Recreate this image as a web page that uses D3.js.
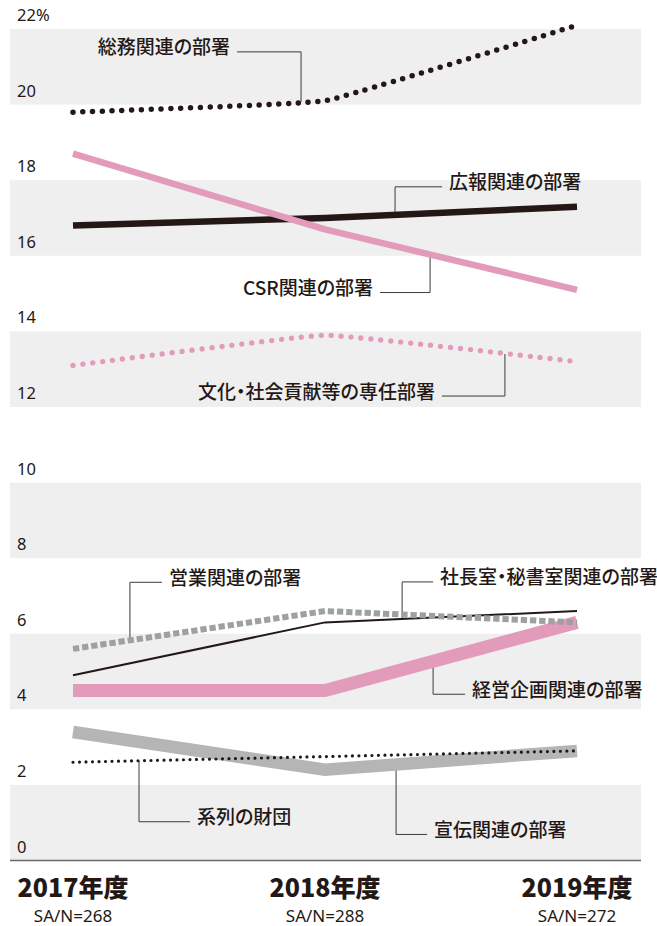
<!DOCTYPE html>
<html>
<head>
<meta charset="utf-8">
<script src="https://cdn.jsdelivr.net/npm/d3@7"></script>
<style>
  body { margin: 0; background: #fff; }
  svg { display: block; }
</style>
</head>
<body>
<script>
// values (%)
const years = ['2017年度', '2018年度', '2019年度']
const sampleSizes = ['SA/N=268', 'SA/N=288', 'SA/N=272']
const yTicks = [0, 2, 4, 6, 8, 10, 12, 14, 16, 18, 20, 22]

const somu = [19.8, 20.1, 22.1]          // 総務関連の部署
const koho = [16.8, 17.0, 17.3]          // 広報関連の部署
const csr = [18.7, 16.7, 15.1]           // CSR関連の部署
const bunka = [13.1, 13.9, 13.2]         // 文化・社会貢献等の専任部署
const eigyo = [5.6, 6.6, 6.3]            // 営業関連の部署
const shacho = [4.9, 6.3, 6.6]           // 社長室・秘書室関連の部署
const keiei = [4.5, 4.5, 6.3]            // 経営企画関連の部署
const senden = [3.4, 2.4, 2.9]           // 宣伝関連の部署
const keiretsu = [2.6, 2.75, 2.9]        // 系列の財団

const W = 657, H = 926
const ink = '#231815'
const pink = '#e29bbb'

const svg = d3.select('body').append('svg')
    .attr('width', W)
    .attr('height', H)

const x = d3.scaleLinear().domain([0, 2]).range([73, 577])
const y = d3.scaleLinear().domain([0, 22]).range([860.5, 29])

// alternating bands
svg.selectAll('rect.band')
    .data(yTicks.filter(d => d % 4 === 0 && d < 22))
    .enter()
    .append('rect')
    .attr('class', 'band')
    .attr('x', 10)
    .attr('width', 631)
    .attr('y', d => y(d + 2))
    .attr('height', d => y(d) - y(d + 2))
    .attr('fill', '#efefef')

svg.append('line')
    .attr('x1', 10).attr('x2', 641)
    .attr('y1', y(0)).attr('y2', y(0))
    .attr('stroke', '#6a6767')
    .attr('stroke-width', 1.5)

svg.selectAll('text.tick')
    .data(yTicks)
    .enter()
    .append('text')
    .attr('class', 'tick')
    .attr('x', 17)
    .attr('y', d => y(d) - 8)
    .text(d => d === 22 ? d + '%' : d)
    .style('font-family', '"Noto Sans", sans-serif')
    .style('font-size', '16.5px')
    .attr('fill', ink)

// order = drawing order (later on top)
const series = [
    { name: '総務関連の部署', values: somu, color: ink, width: 5.5, dash: '0 9.8', cap: 'round', curve: true, label: { t: 0.905, dy: -50, dx: -64 } },
    { name: '広報関連の部署', values: koho, color: ink, width: 6.5, label: { t: 1.278, dy: -28, dx: 47 } },
    { name: 'CSR関連の部署', values: csr, color: pink, width: 6.5, label: { t: 1.417, dy: 38, dx: -50 } },
    { name: '文化・社会貢献等の専任部署', values: bunka, color: pink, width: 5.3, dash: '0 10', cap: 'round', curve: true, label: { t: 1.714, dy: 42, dx: -63 } },
    { name: '社長室・秘書室関連の部署', values: shacho, color: ink, width: 2, label: { t: 1.306, dy: -37, dx: 31 } },
    { name: '経営企画関連の部署', values: keiei, color: pink, width: 13, label: { t: 1.429, dy: 33, dx: 32 } },
    { name: '営業関連の部署', values: eigyo, color: '#9fa0a0', width: 6, dash: '6.3 2.9', label: { t: 0.226, dy: -58, dx: 32 } },
    { name: '宣伝関連の部署', values: senden, color: '#b5b5b6', width: 12.5, label: { t: 1.282, dy: 70, dx: 31 } },
    { name: '系列の財団', values: keiretsu, color: ink, width: 3.2, dash: '0 6.5', cap: 'round', label: { t: 0.262, dy: 61, dx: 51 } }
]

function valueAt(values, t) {
    const i = Math.min(Math.floor(t), values.length - 2)
    return values[i] + (values[i + 1] - values[i]) * (t - i)
}

// leader lines + labels (under the lines)
const leaders = svg.append('g')
series.forEach(s => {
    const l = s.label
    const ax = x(l.t)
    const ay = y(valueAt(s.values, l.t))
    const ey = ay + l.dy
    const ex = ax + l.dx
    leaders.append('path')
        .attr('d', `M${ax},${ay}V${ey}H${ex}`)
        .attr('fill', 'none')
        .attr('stroke', '#3e3a39')
        .attr('stroke-width', 1)
    leaders.append('text')
        .attr('x', l.dx < 0 ? ex - 7 : ex + 7)
        .attr('y', ey - 6)
        .attr('dominant-baseline', 'central')
        .attr('text-anchor', l.dx < 0 ? 'end' : 'start')
        .text(s.name)
        .style('font-family', '"Noto Sans CJK JP", sans-serif')
        .style('font-size', '19px')
        .style('font-weight', 500)
        .style('font-feature-settings', '"palt"')
        .attr('fill', ink)
})

series.forEach(s => {
    const line = d3.line()
        .x((d, i) => x(i))
        .y(d => y(d))
        .curve(s.curve ? d3.curveCardinal.tension(0.75) : d3.curveLinear)
    svg.append('path')
        .datum(s.values)
        .attr('d', line)
        .attr('fill', 'none')
        .attr('stroke', s.color)
        .attr('stroke-width', s.width)
        .attr('stroke-dasharray', s.dash || null)
        .attr('stroke-linecap', s.cap || 'butt')
})

// x labels
svg.selectAll('text.year')
    .data(years)
    .enter()
    .append('text')
    .attr('class', 'year')
    .attr('x', (d, i) => x(i))
    .attr('y', 897)
    .attr('text-anchor', 'middle')
    .text(d => d)
    .style('font-family', '"Noto Sans CJK JP", sans-serif')
    .style('font-size', '25px')
    .style('font-weight', 900)
    .attr('fill', ink)

svg.selectAll('text.n')
    .data(sampleSizes)
    .enter()
    .append('text')
    .attr('class', 'n')
    .attr('x', (d, i) => x(i))
    .attr('y', 921.5)
    .attr('text-anchor', 'middle')
    .text(d => d)
    .style('font-family', '"Noto Sans", sans-serif')
    .style('font-size', '17px')
    .attr('fill', ink)
</script>
</body>
</html>
